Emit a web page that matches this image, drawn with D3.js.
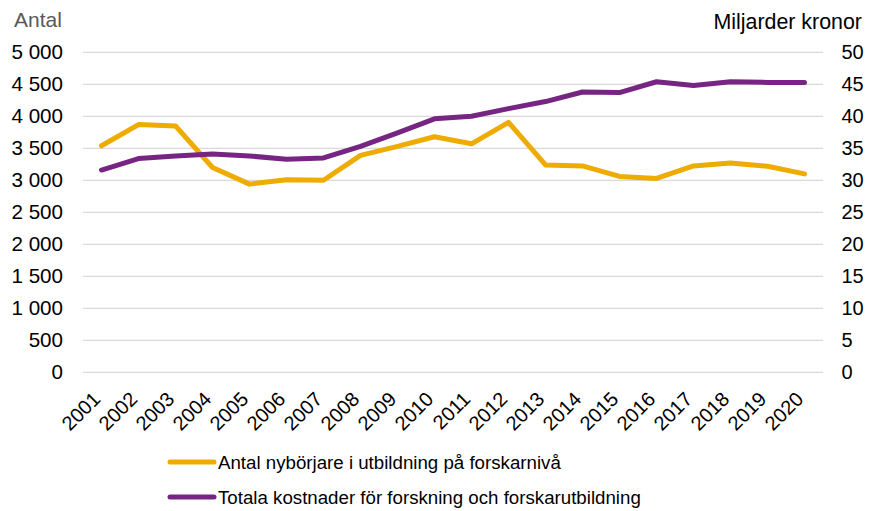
<!DOCTYPE html>
<html><head><meta charset="utf-8">
<script src="https://cdn.jsdelivr.net/npm/d3@7"></script>
<style>body{margin:0;background:#fff}svg{font-family:"Liberation Sans",Arial,sans-serif}</style>
</head><body><svg id="c" width="875" height="511"></svg>
<script>
const years = ["2001","2002","2003","2004","2005","2006","2007","2008","2009","2010","2011","2012","2013","2014","2015","2016","2017","2018","2019","2020"];
const nyborjare = [3540,3870,3850,3200,2940,3010,3000,3390,3530,3680,3570,3905,3240,3225,3060,3030,3225,3270,3220,3100];
const kostnader = [31.6,33.4,33.8,34.1,33.8,33.3,33.5,35.3,37.4,39.6,40.0,41.2,42.3,43.8,43.7,45.4,44.8,45.4,45.3,45.3];
const leftTicks = [0,500,1000,1500,2000,2500,3000,3500,4000,4500,5000];
const rightTicks = [0,5,10,15,20,25,30,35,40,45,50];
const seriesNames = ["Antal nybörjare i utbildning på forskarnivå","Totala kostnader för forskning och forskarutbildning"];
const colors = ["#EEAB00","#772583"];

const svg = d3.select("#c");
const L = 83, R = 823, T = 52.3, B = 372.3;
const x = d3.scaleBand().domain(years).range([L,R]);
const yL = d3.scaleLinear().domain([0,5000]).range([B,T]);
const yR = d3.scaleLinear().domain([0,50]).range([B,T]);
const fmt = d => d3.format(",")(d).replace(/,/g," ");
const FF = "Liberation Sans, Arial, sans-serif";

// grid
svg.append("g").selectAll("line").data(leftTicks).join("line")
  .attr("x1",L).attr("x2",R).attr("y1",d=>yL(d)).attr("y2",d=>yL(d))
  .attr("stroke","#d9d9d9").attr("stroke-width",1.3);

// left axis
const la = svg.append("g").attr("transform",`translate(${L},0)`)
  .call(d3.axisLeft(yL).tickValues(leftTicks).tickFormat(fmt).tickSize(0).tickPadding(20));
la.select(".domain").remove();
la.selectAll("text").attr("font-size",20.6).attr("fill","#000").attr("font-family",FF);

// right axis
const ra = svg.append("g").attr("transform",`translate(${R},0)`)
  .call(d3.axisRight(yR).tickValues(rightTicks).tickSize(0).tickPadding(18.5));
ra.select(".domain").remove();
ra.selectAll("text").attr("font-size",20).attr("fill","#000").attr("font-family",FF);

// x axis
const xa = svg.append("g").attr("transform",`translate(0,${B})`)
  .call(d3.axisBottom(x).tickSize(0).tickPadding(0));
xa.select(".domain").remove();
xa.selectAll("text").attr("font-size",20).attr("fill","#000").attr("font-family",FF)
  .attr("text-anchor","end").attr("dy","0")
  .attr("transform","translate(0,28) rotate(-45)");

// axis titles
svg.append("text").attr("x",14).attr("y",26.5).attr("font-size",21).attr("fill","#595959").text("Antal");
svg.append("text").attr("x",862).attr("y",28.5).attr("font-size",21.4).attr("fill","#000").attr("text-anchor","end").text("Miljarder kronor");

// lines
const cx = d => x(d) + x.bandwidth()/2;
const lineL = d3.line().x((d,i)=>cx(years[i])).y(d=>yL(d));
const lineR = d3.line().x((d,i)=>cx(years[i])).y(d=>yR(d));
svg.append("path").attr("d",lineL(nyborjare)).attr("fill","none").attr("stroke",colors[0]).attr("stroke-width",5).attr("stroke-linecap","round").attr("stroke-linejoin","round");
svg.append("path").attr("d",lineR(kostnader)).attr("fill","none").attr("stroke",colors[1]).attr("stroke-width",5).attr("stroke-linecap","round").attr("stroke-linejoin","round");

// legend
const lg = svg.append("g");
seriesNames.forEach((n,i)=>{
  const yy = 462 + i*35;
  lg.append("line").attr("x1",170).attr("x2",214).attr("y1",yy).attr("y2",yy).attr("stroke",colors[i]).attr("stroke-width",5).attr("stroke-linecap","round");
  lg.append("text").attr("x",218).attr("y",yy).attr("dy","0.35em").attr("font-size",18.7).attr("fill","#000").text(n);
});
</script></body></html>
